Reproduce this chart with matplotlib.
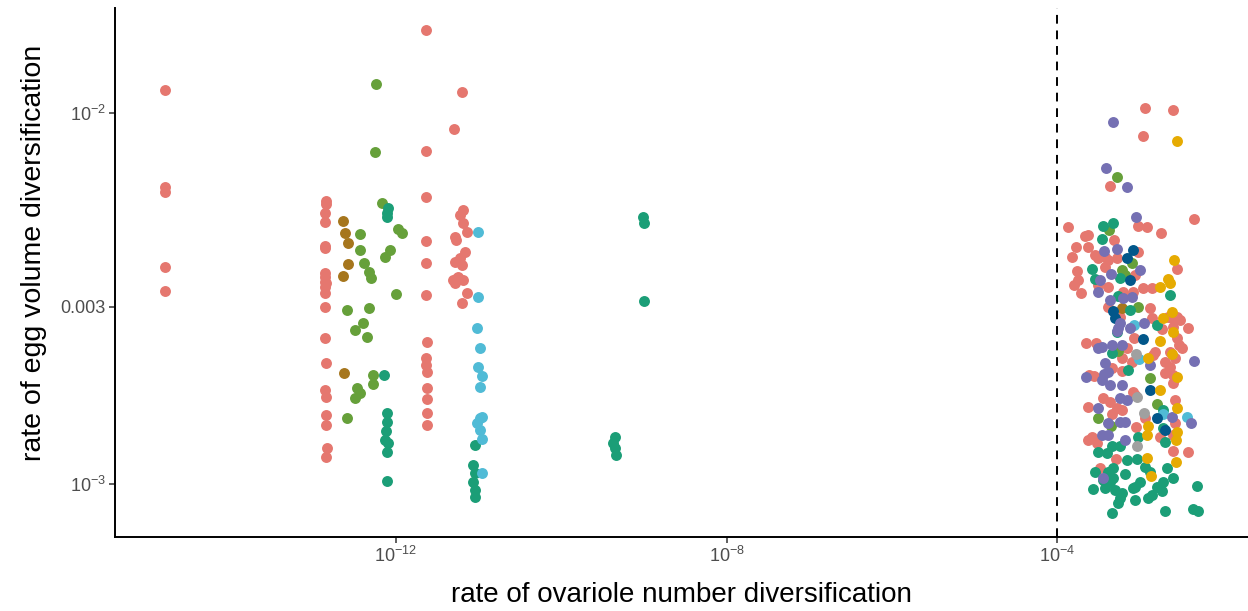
import numpy as np
import matplotlib
matplotlib.use("Agg")
import matplotlib.pyplot as plt
from matplotlib.ticker import FixedLocator, FixedFormatter, NullLocator

# log10 of the rates, one pair of arrays per clade colour
salmon_x = [-14.79, -14.79, -14.79, -14.79, -14.79,
            -12.85, -12.85, -12.86, -12.86, -12.86, -12.86, -12.86, -12.86, -12.86, -12.86,
            -12.86, -12.86, -12.86, -12.85, -12.86, -12.85, -12.85, -12.85, -12.84, -12.85, -12.85,
            -11.64, -11.64, -11.64, -11.64, -11.64, -11.64, -11.63, -11.64, -11.64, -11.63,
            -11.63, -11.63, -11.63, -11.63,
            -11.20, -11.30, -11.19, -11.23, -11.19, -11.14, -11.29, -11.27, -11.16, -11.29,
            -11.20, -11.26, -11.19, -11.29, -11.25, -11.31, -11.14, -11.20, -11.23,
            -2.935, -2.596, -2.959, -3.358, -2.341, -3.867, -3.019, -2.910, -2.741, -3.661,
            -3.625, -3.310, -3.770, -3.625, -3.019, -3.818, -3.540, -3.419, -3.504, -3.383,
            -3.274, -2.547, -3.758, -3.419, -3.056, -3.746, -3.794, -3.504, -3.383, -2.959,
            -2.850, -3.709, -3.201, -3.080, -3.383, -2.874, -3.237, -2.547, -2.656, -2.850,
            -2.608, -2.511, -2.729, -2.596, -2.414, -3.068, -2.547, -2.523, -3.649, -3.528,
            -3.153, -2.814, -2.632, -2.487, -2.838, -3.213, -2.692, -2.571, -3.092, -2.632,
            -3.334, -3.213, -3.613, -3.552, -2.692, -2.596, -2.571, -2.596, -3.080, -3.056,
            -3.443, -3.358, -3.625, -3.274, -3.213, -2.571, -3.334, -2.935, -2.571, -3.044,
            -3.576, -2.596, -3.625, -3.516, -2.753, -2.596, -2.414, -3.286, -3.479]
salmon_y = [-1.938, -2.199, -2.213, -2.415, -2.480,
            -2.237, -2.245, -2.270, -2.294, -2.358, -2.364, -2.431, -2.442, -2.456, -2.469,
            -2.485, -2.523, -2.606, -2.674, -2.747, -2.765, -2.814, -2.841, -2.903, -2.927, -2.458,
            -1.776, -2.102, -2.226, -2.345, -2.404, -2.491, -2.617, -2.660, -2.679, -2.698,
            -2.741, -2.771, -2.809, -2.841,
            -1.943, -2.043, -2.261, -2.275, -2.296, -2.321, -2.334, -2.342, -2.375, -2.402,
            -2.410, -2.445, -2.450, -2.458, -2.442, -2.450, -2.485, -2.512, -2.391,
            -1.987, -1.992, -2.062, -2.197, -2.286, -2.306, -2.304, -2.306, -2.323, -2.332,
            -2.329, -2.342, -2.360, -2.360, -2.374, -2.389, -2.383, -2.387, -2.392, -2.396,
            -2.392, -2.420, -2.426, -2.414, -2.437, -2.450, -2.464, -2.464, -2.468, -2.473,
            -2.473, -2.486, -2.482, -2.482, -2.522, -2.525, -2.549, -2.549, -2.549, -2.553,
            -2.553, -2.558, -2.582, -2.576, -2.580, -2.606, -2.607, -2.625, -2.621, -2.621,
            -2.633, -2.643, -2.643, -2.633, -2.652, -2.660, -2.670, -2.661, -2.670, -2.684,
            -2.688, -2.695, -2.706, -2.709, -2.702, -2.706, -2.715, -2.729, -2.751, -2.760,
            -2.769, -2.778, -2.792, -2.796, -2.801, -2.774, -2.812, -2.823, -2.836, -2.846,
            -2.873, -2.868, -2.881, -2.890, -2.873, -2.911, -2.913, -2.933, -2.958]

brown_x = [-12.64, -12.62, -12.58, -12.58, -12.64, -12.63, -3.213]
brown_y = [-2.291, -2.323, -2.350, -2.407, -2.439, -2.701, -2.526]

green_x = [-12.24, -12.25, -12.17, -12.44, -12.44, -12.39, -12.33, -12.30, -12.07, -12.13,
           -11.98, -11.93, -12.00, -12.59, -12.33, -12.40, -12.50, -12.35, -12.28, -12.28,
           -12.47, -12.44, -12.50, -12.59,
           -3.274, -3.370, -3.092, -3.213, -3.177, -3.019, -3.262, -2.874, -2.789, -3.504,
           -3.346]
green_y = [-1.922, -2.105, -2.243, -2.326, -2.369, -2.404, -2.429, -2.445, -2.369, -2.388,
           -2.313, -2.323, -2.488, -2.531, -2.526, -2.566, -2.585, -2.604, -2.706, -2.730,
           -2.741, -2.755, -2.768, -2.822,
           -2.173, -2.315, -2.405, -2.423, -2.437, -2.522, -2.642, -2.715, -2.785, -2.823,
           -2.843]

teal_x = [-12.10, -12.11, -12.11, -12.15, -12.11, -12.11, -12.12, -12.13, -12.10, -12.11,
          -12.11,
          -11.04, -11.07, -11.04, -11.07, -11.04, -11.04,
          -9.35, -9.37, -9.35, -9.34, -9.01, -9.00, -9.00,
          -3.443, -3.322, -3.455, -3.576, -3.237, -3.540, -3.262, -2.632, -3.116, -2.789,
          -3.334, -3.140, -2.717, -2.717, -3.019, -2.692, -3.237, -3.334, -3.504, -3.395,
          -3.153, -3.031, -3.383, -3.322, -2.935, -2.874, -2.668, -3.177, -3.322, -3.540,
          -3.443, -3.358, -2.596, -2.717, -2.995, -3.056, -3.080, -3.564, -3.419, -3.298,
          -2.789, -2.729, -2.305, -3.213, -3.237, -2.850, -2.898, -3.056, -3.262, -3.334,
          -2.692, -2.353, -2.293, -3.274]
teal_y = [-2.256, -2.270, -2.280, -2.706, -2.809, -2.833, -2.857, -2.881, -2.889, -2.914,
          -2.992,
          -2.895, -2.949, -2.970, -2.995, -3.016, -3.035,
          -2.873, -2.889, -2.903, -2.922, -2.280, -2.296, -2.507,
          -2.304, -2.297, -2.340, -2.420, -2.446, -2.447, -2.492, -2.491, -2.531, -2.571,
          -2.648, -2.693, -2.801, -2.850, -2.873, -2.886, -2.899, -2.899, -2.913, -2.917,
          -2.935, -2.933, -2.967, -2.958, -2.953, -2.967, -2.958, -2.974, -2.985, -2.967,
          -2.989, -2.995, -2.985, -2.994, -2.994, -3.007, -3.012, -3.013, -3.012, -3.016,
          -3.007, -3.019, -3.005, -3.025, -3.039, -3.030, -3.039, -3.043, -3.052, -3.079,
          -3.073, -3.067, -3.073, -2.590]

cyan_x = [-11.01, -11.01, -11.02, -10.98, -11.01, -10.96, -10.98, -10.98, -11.02, -10.98,
          -10.96, -10.96, -10.96,
          -3.068, -3.007, -2.717, -2.426]
cyan_y = [-2.321, -2.496, -2.580, -2.633, -2.685, -2.709, -2.739, -2.822, -2.836, -2.854,
          -2.879, -2.970, -2.819,
          -2.571, -2.664, -2.812, -2.819]

navy_x = [-3.080, -3.153, -3.116, -3.322, -3.298, -2.959, -2.874, -2.789, -2.692]
navy_y = [-2.369, -2.392, -2.450, -2.534, -2.552, -2.609, -2.747, -2.823, -2.854]

purple_x = [-3.322, -3.407, -3.153, -3.044, -3.431, -3.274, -2.995, -3.346, -3.479, -3.504,
            -3.201, -3.092, -3.358, -3.237, -2.947, -3.262, -3.274, -3.116, -3.455, -3.334,
            -3.213, -3.504, -2.341, -3.419, -2.874, -3.383, -3.431, -3.455, -3.358, -3.213,
            -3.153, -3.237, -3.504, -2.608, -3.383, -3.237, -3.177, -2.378, -3.455, -3.383,
            -3.177, -3.443, -3.649]
purple_y = [-2.024, -2.148, -2.199, -2.280, -2.372, -2.367, -2.423, -2.435, -2.450, -2.482,
            -2.498, -2.495, -2.504, -2.567, -2.567, -2.580, -2.588, -2.579, -2.630, -2.625,
            -2.625, -2.634, -2.668, -2.675, -2.679, -2.697, -2.704, -2.720, -2.733, -2.733,
            -2.774, -2.769, -2.796, -2.819, -2.836, -2.832, -2.832, -2.836, -2.868, -2.868,
            -2.881, -2.985, -2.711]

gold_x = [-2.547, -2.584, -2.656, -2.632, -2.753, -2.608, -2.717, -2.596, -2.753, -2.608,
          -2.898, -2.547, -2.753, -2.547, -2.898, -2.910, -2.547, -2.559, -2.910, -2.559,
          -2.862]
gold_y = [-2.075, -2.396, -2.447, -2.459, -2.468, -2.536, -2.552, -2.590, -2.615, -2.650,
          -2.660, -2.711, -2.747, -2.796, -2.843, -2.868, -2.859, -2.881, -2.929, -2.940,
          -2.978]

grey_x = [-3.044, -2.947, -3.031, -3.031]
grey_y = [-2.650, -2.809, -2.899, -2.765]

threshold = 1e-4

plt.rcParams['font.family'] = ['Liberation Sans', 'DejaVu Sans']
plt.rcParams['mathtext.fontset'] = 'custom'
plt.rcParams['mathtext.rm'] = 'Liberation Sans'
plt.rcParams['mathtext.it'] = 'Liberation Sans:italic'

fig = plt.figure(figsize=(12.48, 6.11), dpi=100)
ax = fig.add_axes([0.0921, 0.1211, 0.9079, 0.8658])

groups = [
    (salmon_x, salmon_y, '#E5776F'),
    (brown_x, brown_y, '#A6761D'),
    (green_x, green_y, '#66A03A'),
    (teal_x, teal_y, '#1B9E77'),
    (cyan_x, cyan_y, '#50BBD6'),
    (navy_x, navy_y, '#02578A'),
    (purple_x, purple_y, '#7570B3'),
    (gold_x, gold_y, '#E6AB02'),
    (grey_x, grey_y, '#A0A0A0'),
]
for gx, gy, col in groups:
    ax.scatter(10.0 ** np.array(gx), 10.0 ** np.array(gy), s=62, color=col,
               linewidths=0, zorder=3)

ax.axvline(threshold, color='black', lw=1.4, linestyle=(0, (4.5, 3.5)), zorder=2)

ax.set_xscale('log')
ax.set_yscale('log')
ax.set_xlim(10 ** -15.40, 10 ** -1.69)
ax.set_ylim(10 ** -3.143, 10 ** -1.717)

ax.xaxis.set_major_locator(FixedLocator([1e-12, 1e-8, 1e-4]))
ax.xaxis.set_major_formatter(FixedFormatter([r'$\mathregular{10^{-12}}$',
                                             r'$\mathregular{10^{-8}}$',
                                             r'$\mathregular{10^{-4}}$']))
ax.yaxis.set_major_locator(FixedLocator([1e-3, 3e-3, 1e-2]))
ax.yaxis.set_major_formatter(FixedFormatter([r'$\mathregular{10^{-3}}$', '0.003',
                                             r'$\mathregular{10^{-2}}$']))
ax.xaxis.set_minor_locator(NullLocator())
ax.yaxis.set_minor_locator(NullLocator())

for side in ['top', 'right']:
    ax.spines[side].set_visible(False)
for side in ['left', 'bottom']:
    ax.spines[side].set_linewidth(1.4)
    ax.spines[side].set_color('black')
ax.tick_params(axis='both', length=4, width=1.1, color='#333333',
               labelcolor='#4D4D4D', labelsize=13, pad=2.5)

ax.set_xlabel('rate of ovariole number diversification', fontsize=20)
ax.set_ylabel('rate of egg volume diversification', fontsize=20.5)
ax.xaxis.set_label_coords(0.5, -0.085)
ax.yaxis.set_label_coords(-0.06, 0.538)

fig.savefig('out.png', dpi=100)
